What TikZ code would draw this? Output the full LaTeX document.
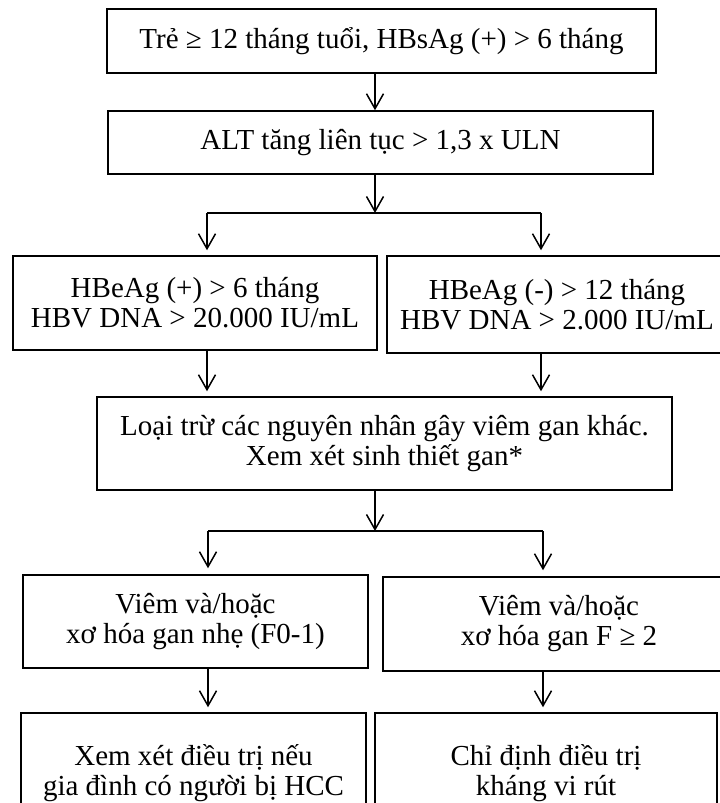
\documentclass[tikz,border=0pt]{standalone}
\usepackage{fontspec}
\setmainfont{Liberation Serif}
\usetikzlibrary{calc, positioning, arrows.meta}
\tikzset{
  flowbox/.style={draw, line width=1.5pt, align=center, inner sep=0pt, font=\fontsize{29}{30}\selectfont},
  link/.style={line width=1.5pt},
  flowarrow/.style={line width=1.5pt, -{Straight Barb[length=15pt,width=17pt]}},
}

\begin{document}
\begin{tikzpicture}[x=1pt, y=-1pt]
\clip (0,0) rectangle (720,803);

% boxes
\node[flowbox, minimum width=549pt, minimum height=64pt] (tre) at (381.5,41) {Trẻ ≥ 12 tháng tuổi, HBsAg (+) > 6 tháng};
\node[flowbox, minimum width=545pt, minimum height=63pt] (alt) at (380.5,142.5) {ALT tăng liên tục > 1,3 x ULN};
\node[flowbox, minimum width=364pt, minimum height=94pt] (hbeplus) at (195,303) {HBeAg (+) > 6 tháng\\HBV DNA > 20.000 IU/mL};
\node[flowbox, minimum width=340pt, minimum height=97pt] (hbeminus) at (557,304.5) {HBeAg (-) > 12 tháng\\HBV DNA > 2.000 IU/mL};
\node[flowbox, minimum width=575pt, minimum height=93pt] (loaitru) at (384.5,443.5) {Loại trừ các nguyên nhân gây viêm gan khác.\\Xem xét sinh thiết gan*};
\node[flowbox, minimum width=345pt, minimum height=93pt] (nhe) at (195.5,621.5) {Viêm và/hoặc\\xơ hóa gan nhẹ (F0-1)};
\node[flowbox, minimum width=352pt, minimum height=94pt] (nang) at (559,624) {Viêm và/hoặc\\xơ hóa gan F ≥ 2};
\node[flowbox, minimum width=345pt, minimum height=120pt] (xemxet) at (193.5,773) {Xem xét điều trị nếu\\gia đình có người bị HCC};
\node[flowbox, minimum width=342pt, minimum height=120pt] (chidinh) at (546,773) {Chỉ định điều trị\\kháng vi rút};

% split points
\coordinate (s1) at (375,213);
\coordinate (s1l) at (207,213);
\coordinate (s1r) at (541,213);
\coordinate (s2) at (375,531);
\coordinate (s2l) at (208,531);
\coordinate (s2r) at (543,531);

% arrows
\draw[flowarrow] (tre.south -| s1) -- (alt.north -| s1);
\draw[flowarrow] (alt.south -| s1) -- (s1);
\draw[link] (s1l) -- (s1r);
\draw[flowarrow, shorten >=5pt] (s1l) -- (s1l |- hbeplus.north);
\draw[flowarrow, shorten >=5pt] (s1r) -- (s1r |- hbeminus.north);
\draw[flowarrow, shorten >=5pt] (hbeplus.south -| s1l) -- (loaitru.north -| s1l);
\draw[flowarrow, shorten >=5pt] (hbeminus.south -| s1r) -- (loaitru.north -| s1r);
\draw[flowarrow] (loaitru.south -| s2) -- (s2);
\draw[link] (s2l) -- (s2r);
\draw[flowarrow, shorten >=6pt] (s2l) -- (s2l |- nhe.north);
\draw[flowarrow, shorten >=6pt] (s2r) -- (s2r |- nang.north);
\draw[flowarrow, shorten >=5pt] (nhe.south -| s2l) -- (xemxet.north -| s2l);
\draw[flowarrow, shorten >=5pt] (nang.south -| s2r) -- (chidinh.north -| s2r);
\end{tikzpicture}
\end{document}
